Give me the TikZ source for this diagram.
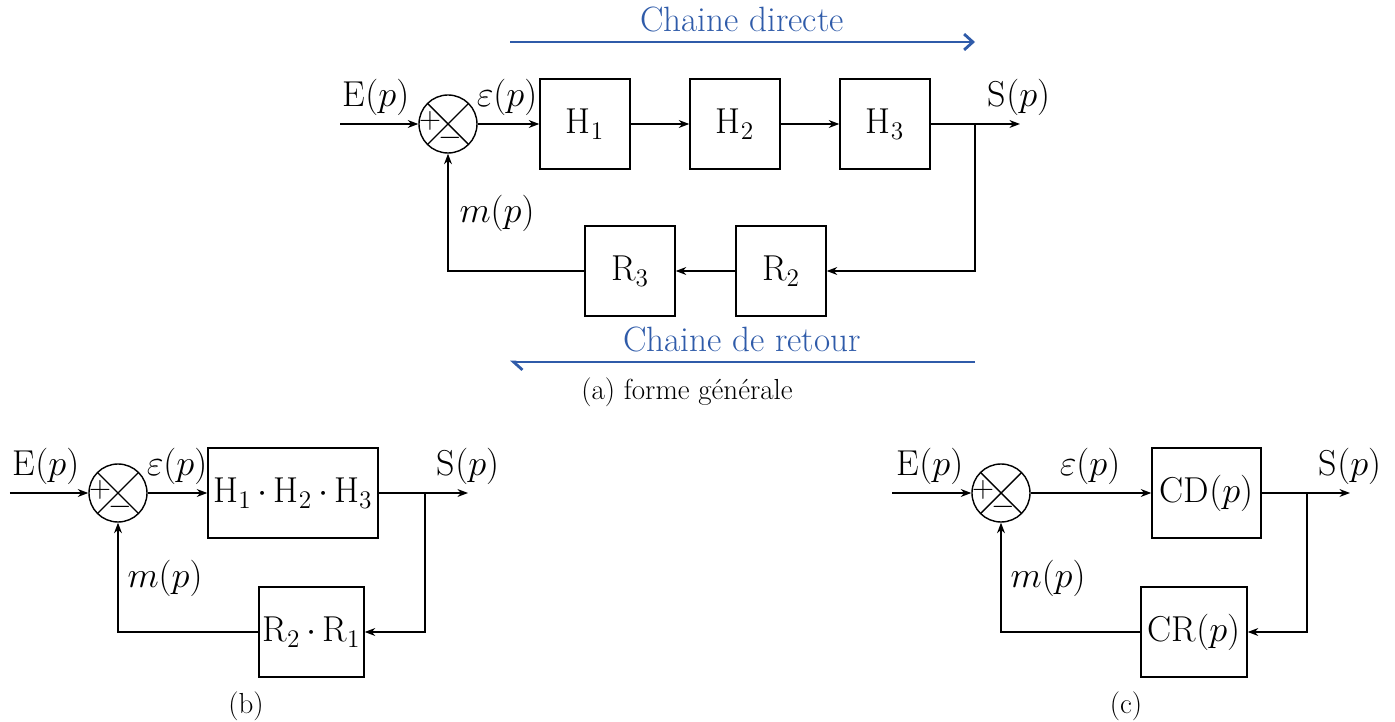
\documentclass[tikz,border=0pt]{standalone}
\usetikzlibrary{arrows.meta}
\definecolor{chaine}{HTML}{2F5BA9}

\begin{document}
\begin{tikzpicture}[
  font=\fontsize{20.5}{24}\selectfont,
  line width=.8pt,
  bloc/.style={draw, line width=.8pt, minimum height=1.8cm, inner sep=1pt},
  sommateur/.style={circle, draw, minimum size=1.16cm, inner sep=0pt,
    path picture={
      \draw (path picture bounding box.north west) -- (path picture bounding box.south east);
      \draw (path picture bounding box.south west) -- (path picture bounding box.north east);}},
  signe/.style={font=\fontsize{18}{20}\selectfont, inner sep=0pt},
  fleche/.style={-{Stealth[length=6pt, width=4.5pt]}},
  sens/.style={draw=chaine, line width=1.6pt},
  titre/.style={text=chaine, font=\fontsize{20}{24}\selectfont},
  legende/.style={font=\fontsize{16.5}{19}\selectfont}
]
\useasboundingbox (0,0) rectangle (27.9,-14.44);

% (a) forme generale
\coordinate (e1) at (6.8,-2.48);
\node[sommateur] (sum1) at (8.96,-2.48) {};
\node[signe] (p1) at ([shift={(-.36,.06)}]sum1.center) {$+$};
\node[signe] (n1) at ([shift={(.05,-.27)}]sum1.center) {$-$};
\node[bloc, minimum width=1.8cm] (H1) at (11.7,-2.48) {H$_1$};
\node[bloc, minimum width=1.8cm] (H2) at (14.7,-2.48) {H$_2$};
\node[bloc, minimum width=1.8cm] (H3) at (17.7,-2.48) {H$_3$};
\coordinate (b1) at (19.5,-2.48);
\coordinate (s1) at (20.4,-2.48);
\node[bloc, minimum width=1.8cm] (R2) at (15.62,-5.42) {R$_2$};
\node[bloc, minimum width=1.8cm] (R3) at (12.6,-5.42) {R$_3$};
\node (E1) at (7.52,-1.94) {E$(p)$};
\node (eps1) at (10.14,-1.94) {$\varepsilon(p)$};
\node (S1) at (20.38,-1.94) {S$(p)$};
\node (m1) at (9.94,-4.26) {$m(p)$};
\draw[fleche] (e1) -- (sum1.west);
\draw[fleche] (sum1.east) -- (H1.west);
\draw[fleche] (H1.east) -- (H2.west);
\draw[fleche] (H2.east) -- (H3.west);
\draw[fleche] (H3.east) -- (s1);
\draw[fleche] (b1) |- (R2.east);
\draw[fleche] (R2.west) -- (R3.east);
\draw[fleche] (R3.west) -| (sum1.south);

% sens de parcours des deux chaines
\coordinate (cd1) at (10.2,-.84);
\coordinate (cd2) at (19.5,-.84);
\coordinate (cr1) at (19.5,-7.24);
\coordinate (cr2) at (10.2,-7.24);
\node[titre] (directe) at (14.84,-.4) {Chaine directe};
\node[titre] (retour) at (14.84,-6.8) {Chaine de retour};
\draw[sens, -{Straight Barb[length=5pt, width=9pt]}] (cd1) -- (cd2);
\draw[sens, -{Straight Barb[harpoon, length=5pt, width=9pt]}] (cr1) -- (cr2);
\node[legende] (capa) at (13.74,-7.84) {(a) forme g\'en\'erale};

% (b) produit des blocs
\coordinate (e2) at (.2,-9.86);
\node[sommateur] (sum2) at (2.36,-9.86) {};
\node[signe] (p2) at ([shift={(-.36,.06)}]sum2.center) {$+$};
\node[signe] (n2) at ([shift={(.05,-.27)}]sum2.center) {$-$};
\node[bloc, minimum width=3.4cm] (H123) at (5.86,-9.86)
  {H$_1$\,$\cdot$\,H$_2$\,$\cdot$\,H$_3$};
\coordinate (b2) at (8.5,-9.86);
\coordinate (s2) at (9.36,-9.86);
\node[bloc, minimum width=2.1cm] (R21) at (6.23,-12.64)
  {R$_2$\,$\cdot$\,R$_1$};
\node (E2) at (.92,-9.32) {E$(p)$};
\node (eps2) at (3.54,-9.32) {$\varepsilon(p)$};
\node (S2) at (9.36,-9.32) {S$(p)$};
\node (m2) at (3.3,-11.56) {$m(p)$};
\draw[fleche] (e2) -- (sum2.west);
\draw[fleche] (sum2.east) -- (H123.west);
\draw[fleche] (H123.east) -- (s2);
\draw[fleche] (b2) |- (R21.east);
\draw[fleche] (R21.west) -| (sum2.south);
\node[legende] (capb) at (4.92,-14.12) {(b)};

% (c) chaines directe et de retour
\coordinate (e3) at (17.84,-9.86);
\node[sommateur] (sum3) at (20.02,-9.86) {};
\node[signe] (p3) at ([shift={(-.36,.06)}]sum3.center) {$+$};
\node[signe] (n3) at ([shift={(.05,-.27)}]sum3.center) {$-$};
\node[bloc, minimum width=2.18cm] (CD) at (24.13,-9.86) {CD$(p)$};
\coordinate (b3) at (26.14,-9.86);
\coordinate (s3) at (27.0,-9.86);
\node[bloc, minimum width=2.12cm] (CR) at (23.88,-12.64) {CR$(p)$};
\node (E3) at (18.6,-9.32) {E$(p)$};
\node (eps3) at (21.8,-9.32) {$\varepsilon(p)$};
\node (S3) at (27.0,-9.32) {S$(p)$};
\node (m3) at (20.96,-11.56) {$m(p)$};
\draw[fleche] (e3) -- (sum3.west);
\draw[fleche] (sum3.east) -- (CD.west);
\draw[fleche] (CD.east) -- (s3);
\draw[fleche] (b3) |- (CR.east);
\draw[fleche] (CR.west) -| (sum3.south);
\node[legende] (capc) at (22.52,-14.12) {(c)};
\end{tikzpicture}
\end{document}
